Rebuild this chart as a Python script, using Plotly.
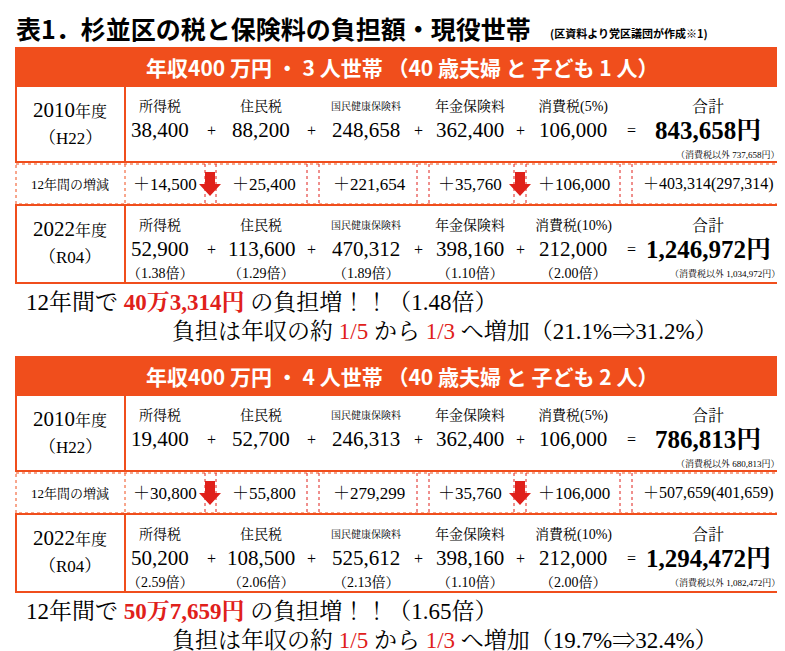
import plotly.graph_objects as go

title = "表1．杉並区の税と保険料の負担額・現役世帯"
title_note = "(区資料より党区議団が作成※1)"
items = ["所得税", "住民税", "国民健康保険料", "年金保険料"]
headers = ["年収400 万円 ・ 3 人世帯 （40 歳夫婦 と 子ども 1 人）",
           "年収400 万円 ・ 4 人世帯 （40 歳夫婦 と 子ども 2 人）"]
vals_2010 = [[38400, 88200, 248658, 362400, 106000], [19400, 52700, 246313, 362400, 106000]]
vals_2022 = [[52900, 113600, 470312, 398160, 212000], [50200, 108500, 525612, 398160, 212000]]
ratios = [["1.38", "1.29", "1.89", "1.10", "2.00"], ["2.59", "2.06", "2.13", "1.10", "2.00"]]
totals_2010 = [843658, 786813]
totals_2022 = [1246972, 1294472]
ex_2010 = ["737,658", "680,813"]
ex_2022 = ["1,034,972", "1,082,472"]
increase_text = ["40万3,314円", "50万7,659円"]
increase_ratio = ["1.48", "1.65"]
share_text = ["21.1%⇒31.2%", "19.7%⇒32.4%"]

SERIF = "Liberation Serif, Noto Serif CJK JP, Noto Sans CJK JP"
GOTH = "Noto Sans CJK JP"
ORANGE = "#f04e1c"
RED = "#e0201a"

fig = go.Figure()
ann = []
shapes = []


def txt(x, y, s, size, color="black", font=SERIF, xanchor="center"):
    ann.append(dict(x=x, y=y, text=s, showarrow=False, xanchor=xanchor, yanchor="middle",
                    font=dict(size=size, color=color, family=font)))


def rect(x0, y0, x1, y1, line=ORANGE, fill=None, width=2, dash="solid"):
    shapes.append(dict(type="rect", x0=x0, y0=y0, x1=x1, y1=y1, line=dict(color=line, width=width, dash=dash),
                       fillcolor=fill, layer="below"))


def arrow(x, y):
    shapes.append(dict(type="path", path=f"M {x-5} {y-12} L {x+5} {y-12} L {x+5} {y} L {x+11} {y} L {x} {y+12} L {x-11} {y} L {x-5} {y} Z",
                       fillcolor=RED, line=dict(width=0)))


txt(6, 20, "<b>" + title + "</b>", 25, font=GOTH, xanchor="left")
txt(540, 25, "<b>" + title_note + "</b>", 11, font=GOTH, xanchor="left")

cx = [152, 253, 358, 462, 565]
px = [203, 303, 410, 512]
vdots = [197, 208, 299, 311, 409, 421, 506, 518, 612, 624]

for b in range(2):
    o = 309 * b
    rect(8, 40 + o, 780, 78 + o, fill=ORANGE)
    txt(394, 59 + o, "<b>" + headers[b] + "</b>", 21, "white", GOTH)
    # 2010 row
    rect(8, 78 + o, 780, 154 + o)
    shapes.append(dict(type="line", x0=117, x1=117, y0=78 + o, y1=154 + o, line=dict(color=ORANGE, width=2)))
    # change row
    rect(8, 156 + o, 780, 196 + o, width=1, dash="dot")
    shapes.append(dict(type="line", x0=117, x1=117, y0=156 + o, y1=196 + o, line=dict(color=ORANGE, width=1, dash="dot")))
    for v in vdots:
        shapes.append(dict(type="line", x0=v, x1=v, y0=156 + o, y1=196 + o, line=dict(color=RED, width=1, dash="dot")))
    # 2022 row
    rect(8, 197 + o, 780, 275 + o)
    shapes.append(dict(type="line", x0=117, x1=117, y0=197 + o, y1=275 + o, line=dict(color=ORANGE, width=2)))

    for r, (yr, era, vals, tot, ex, y0) in enumerate([
            ("2010", "H22", vals_2010[b], totals_2010[b], ex_2010[b], 78 + o),
            ("2022", "R04", vals_2022[b], totals_2022[b], ex_2022[b], 197 + o)]):
        txt(62, y0 + 24, yr + "<span style='font-size:16px'>年度</span>", 21)
        txt(62, y0 + 52, "（" + era + "）", 17)
        labels = items + ["消費税(" + ("5" if r == 0 else "10") + "%)"]
        for i, lab in enumerate(labels):
            txt(cx[i], y0 + 20, lab, 10 if i == 2 else 14)
            txt(cx[i], y0 + 44, f"{vals[i]:,}", 21)
            if r == 1:
                txt(cx[i], y0 + 68, "（" + ratios[b][i] + "倍）", 14)
        for p in px:
            txt(p, y0 + 44, "+", 16)
        txt(623, y0 + 44, "=", 16)
        txt(700, y0 + 20, "合計", 16)
        txt(700, y0 + 44, f"<b>{tot:,}円</b>", 25)
        txt(774, y0 + 68, "（消費税以外 " + ex + "円）", 9, xanchor="right")

    # change row text
    diffs = [vals_2022[b][i] - vals_2010[b][i] for i in range(5)]
    ydc = 176 + o
    txt(62, ydc, "12年間の増減", 13)
    dx = [157, 256, 361, 462, 566]
    for i, d in enumerate(diffs):
        txt(dx[i], ydc, f"＋{d:,}", 17)
    dt = totals_2022[b] - totals_2010[b]
    dex = int(ex_2022[b].replace(",", "")) - int(ex_2010[b].replace(",", ""))
    txt(700, ydc, f"＋{dt:,}({dex:,})", 16)
    arrow(202, ydc)
    arrow(512, ydc)

    # summary lines
    txt(16, 294 + o, f"12年間で <span style='color:{RED}'><b>{increase_text[b]}</b></span> の負担増！！（{increase_ratio[b]}倍）",
        23, xanchor="left")
    txt(162, 323 + o, f"負担は年収の約 <span style='color:{RED}'>1/5</span> から <span style='color:{RED}'>1/3</span> へ増加（{share_text[b]}）",
        23, xanchor="left")

fig.update_layout(width=785, height=651, margin=dict(l=0, r=0, t=0, b=0),
                  plot_bgcolor="white", paper_bgcolor="white",
                  xaxis=dict(range=[0, 785], visible=False),
                  yaxis=dict(range=[651, 0], visible=False),
                  annotations=ann, shapes=shapes, showlegend=False)
fig.write_html("out.html")
